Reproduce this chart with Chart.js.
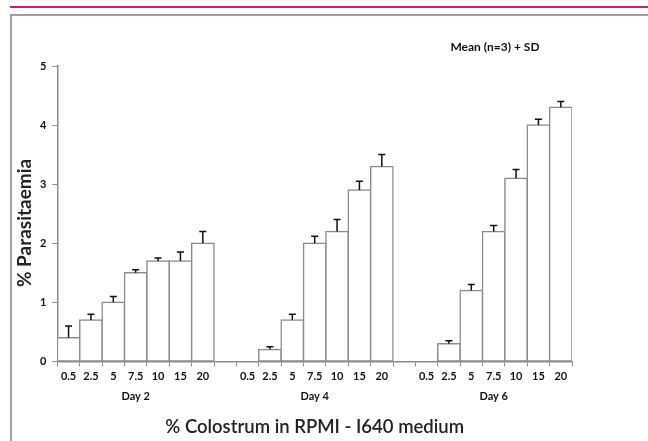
<!DOCTYPE html>
<html>
<head>
<meta charset="utf-8">
<script src="https://cdn.jsdelivr.net/npm/chart.js@4/dist/chart.umd.min.js"></script>
<style>
  body { margin: 0; background: #fff; width: 648px; height: 441px; overflow: hidden; position: relative; font-family: Lato, sans-serif; }
  #topline { position: absolute; left: 10px; top: 6px; width: 638px; height: 2px; background: #c8206e; }
  #frame { position: absolute; left: 10px; top: 14px; width: 700px; height: 500px; border-left: 2px solid #a0a0a0; border-top: 2px solid #a0a0a0; }
  #note { position: absolute; left: 440px; top: 39px; width: 110px; text-align: center; font: bold 12px Lato, sans-serif; color: #111; }
  #wrap { position: absolute; left: 12px; top: 16px; }
</style>
</head>
<body>
<div id="topline"></div>
<div id="frame"></div>
<div id="wrap"><canvas id="chart" width="636" height="425"></canvas></div>
<div id="note">Mean (n=3) + SD</div>
<script>
// % colostrum per bar, empty slots separate the days
const concLabels = ['0.5', '2.5', '5', '7.5', '10', '15', '20', '',
                    '0.5', '2.5', '5', '7.5', '10', '15', '20', '',
                    '0.5', '2.5', '5', '7.5', '10', '15', '20'];
const dayLabels = ['', '', '', 'Day 2', '', '', '', '',
                   '', '', '', 'Day 4', '', '', '', '',
                   '', '', '', 'Day 6', '', '', ''];
const parasitaemia = [0.4, 0.7, 1.0, 1.5, 1.7, 1.7, 2.0, null,
                      0, 0.2, 0.7, 2.0, 2.2, 2.9, 3.3, null,
                      0, 0.3, 1.2, 2.2, 3.1, 4.0, 4.3];
const sd = [0.2, 0.1, 0.1, 0.05, 0.05, 0.15, 0.2, null,
            0, 0.05, 0.1, 0.12, 0.2, 0.15, 0.2, null,
            0, 0.05, 0.1, 0.1, 0.15, 0.1, 0.1];
const yTicks = [0, 1, 2, 3, 4, 5];

const axisGray = '#8c8c8c';

// draw the +SD whiskers on top of each bar
const errorBars = {
  id: 'errorBars',
  afterDatasetsDraw(chart) {
    const ctx = chart.ctx;
    const yScale = chart.scales.y;
    const meta = chart.getDatasetMeta(0);
    ctx.save();
    ctx.strokeStyle = '#111';
    ctx.lineWidth = 1.5;
    meta.data.forEach((bar, i) => {
      const v = parasitaemia[i];
      const e = sd[i];
      if (v === null || !e) return;
      const top = yScale.getPixelForValue(v + e);
      ctx.beginPath();
      ctx.moveTo(bar.x, bar.y);
      ctx.lineTo(bar.x, top);
      ctx.moveTo(bar.x - 3.5, top);
      ctx.lineTo(bar.x + 3.5, top);
      ctx.stroke();
    });
    ctx.restore();
  }
};

new Chart(document.getElementById('chart'), {
  type: 'bar',
  data: {
    labels: concLabels,
    datasets: [{
      data: parasitaemia,
      backgroundColor: '#ffffff',
      borderColor: '#8c8c8c',
      borderWidth: 1.5,
      borderSkipped: false,
      inflateAmount: 0.75,
      barPercentage: 1,
      categoryPercentage: 1
    }]
  },
  options: {
    responsive: false,
    animation: false,
    layout: { padding: { left: 3, right: 76, top: 50, bottom: 0 } },
    plugins: { legend: { display: false }, tooltip: { enabled: false } },
    scales: {
      x: {
        weight: 0,
        grid: { display: true, drawOnChartArea: false, offset: true, tickLength: 5, color: axisGray },
        border: { color: axisGray, width: 1.5 },
        ticks: {
          autoSkip: false, maxRotation: 0, padding: 3,
          color: '#111', font: { family: 'Lato', size: 11, weight: 'bold' }
        }
      },
      x2: {
        type: 'category',
        labels: dayLabels,
        position: 'bottom',
        weight: 1,
        offset: true,
        grid: { display: false },
        border: { display: false },
        ticks: {
          autoSkip: false, maxRotation: 0, padding: -4,
          color: '#111', font: { family: 'Lato', size: 11, weight: 'bold' }
        },
        title: {
          display: true,
          text: '% Colostrum in RPMI - I640 medium',
          color: '#222',
          font: { family: 'Lato', size: 18.5, weight: '600' },
          padding: { top: 17, bottom: 3 }
        }
      },
      y: {
        min: 0, max: 5,
        afterBuildTicks(scale) { scale.ticks = yTicks.map(v => ({ value: v })); },
        grid: { display: true, drawOnChartArea: false, tickLength: 5, color: axisGray },
        border: { color: axisGray, width: 1.5 },
        ticks: {
          padding: 6,
          color: '#111', font: { family: 'Lato', size: 11, weight: 'bold' }
        },
        title: {
          display: true,
          text: '% Parasitaemia' + '\u00a0'.repeat(4),
          color: '#222',
          font: { family: 'Lato', size: 19, weight: 'bold', lineHeight: 1 },
          padding: { top: 0, bottom: 0 }
        }
      }
    }
  },
  plugins: [errorBars]
});
</script>
</body>
</html>
